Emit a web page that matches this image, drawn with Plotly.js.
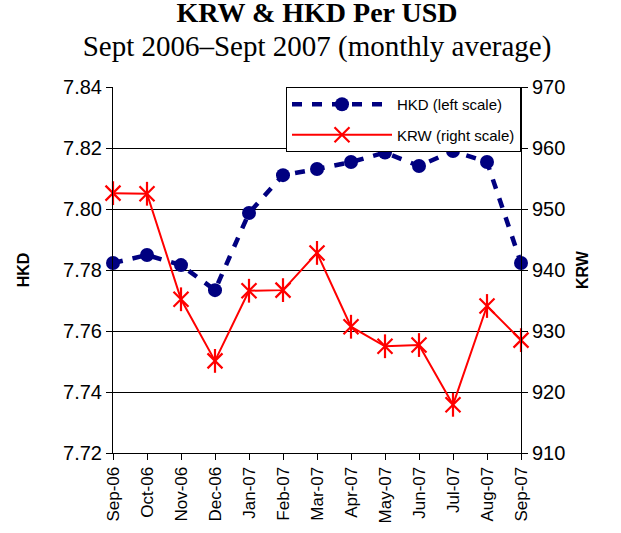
<!DOCTYPE html>
<html>
<head>
<meta charset="utf-8">
<script src="https://cdn.plot.ly/plotly-3.0.1.min.js"></script>
<style>html,body{margin:0;padding:0;background:#fff;}#chart{width:621px;height:533px;}</style>
</head>
<body>
<div id="chart"></div>
<script>
const months = ['Sep-06','Oct-06','Nov-06','Dec-06','Jan-07','Feb-07','Mar-07','Apr-07','May-07','Jun-07','Jul-07','Aug-07','Sep-07'];
const hkd = [7.7823, 7.7849, 7.7816, 7.7734, 7.7987, 7.8111, 7.8131, 7.8154, 7.8185, 7.8141, 7.8190, 7.8154, 7.7823];
const krw = [952.6, 952.5, 935.2, 925.1, 936.6, 936.7, 942.8, 930.7, 927.5, 927.7, 917.9, 934.1, 928.5];
const hkdTicks = [7.72, 7.74, 7.76, 7.78, 7.80, 7.82, 7.84];
const krwTicks = [910, 920, 930, 940, 950, 960, 970];

const traces = [
  {
    x: months, y: hkd, name: 'HKD (left scale)', type: 'scatter', mode: 'lines+markers',
    legendgroup: 'a', cliponaxis: false,
    line: {color: '#000080', width: 4.5, dash: '10px,10px'},
    marker: {symbol: 'circle', size: 14, color: '#000080'}
  },
  {
    x: months, y: krw, name: 'KRW (right scale)', type: 'scatter', mode: 'lines+markers',
    yaxis: 'y2', legendgroup: 'b', cliponaxis: false,
    line: {color: '#ff0000', width: 2},
    marker: {symbol: 'x-thin-open', size: 15, color: '#ff0000', line: {color: '#ff0000', width: 2.2}}
  },
  {
    x: months, y: krw, name: 'KRW', type: 'scatter', mode: 'markers',
    yaxis: 'y2', legendgroup: 'b', showlegend: false, cliponaxis: false, hoverinfo: 'skip',
    marker: {symbol: 'line-ns-open', size: 17, color: '#ff0000', line: {color: '#ff0000', width: 2.2}}
  }
];

const layout = {
  width: 621, height: 533,
  paper_bgcolor: '#ffffff', plot_bgcolor: '#ffffff',
  margin: {l: 113, r: 100, t: 87, b: 80},
  font: {family: 'Arial, Liberation Sans, sans-serif', color: '#000'},
  title: {
    text: '<b><span style="font-size:28px">KRW &amp; HKD Per USD</span></b><br><span style="font-size:29px">Sept 2006–Sept 2007 (monthly average)</span>',
    font: {family: 'Liberation Serif, Times New Roman, serif', size: 25.5, color: '#000'},
    x: 0.5, xanchor: 'center', xref: 'paper', y: 0.958, yanchor: 'top', yref: 'container'
  },
  xaxis: {
    type: 'category', range: [0, 12], tickangle: -90,
    tickfont: {size: 17, family: 'Arial, Liberation Sans, sans-serif'},
    ticks: 'outside', ticklen: 6, tickcolor: '#000', showline: true, linecolor: '#000', linewidth: 1,
    showgrid: false, zeroline: false, fixedrange: true
  },
  yaxis: {
    range: [7.72, 7.84], tickvals: hkdTicks, tickformat: '.2f',
    tickfont: {size: 20}, ticks: 'outside', ticklen: 6, tickcolor: '#000',
    showline: true, linecolor: '#000', linewidth: 1,
    showgrid: true, gridcolor: '#000', gridwidth: 1, zeroline: false,
    title: {text: '<b>HKD</b>', font: {size: 16}, standoff: 29}
  },
  yaxis2: {
    range: [910, 970], tickvals: krwTicks, overlaying: 'y', side: 'right',
    tickfont: {size: 20}, ticks: 'outside', ticklen: 6, tickcolor: '#000',
    showline: true, linecolor: '#000', linewidth: 1, showgrid: false, zeroline: false,
    title: {text: '<b>KRW</b>', font: {size: 16}, standoff: 12}
  },
  legend: {
    x: 1, xanchor: 'right', y: 1, yanchor: 'top',
    bgcolor: '#ffffff', bordercolor: '#000', borderwidth: 1,
    font: {size: 15}, traceorder: 'grouped', tracegroupgap: 8,
    itemwidth: 100
  },
  showlegend: true
};

Plotly.newPlot('chart', traces, layout, {staticPlot: true, displayModeBar: false});
</script>
</body>
</html>
